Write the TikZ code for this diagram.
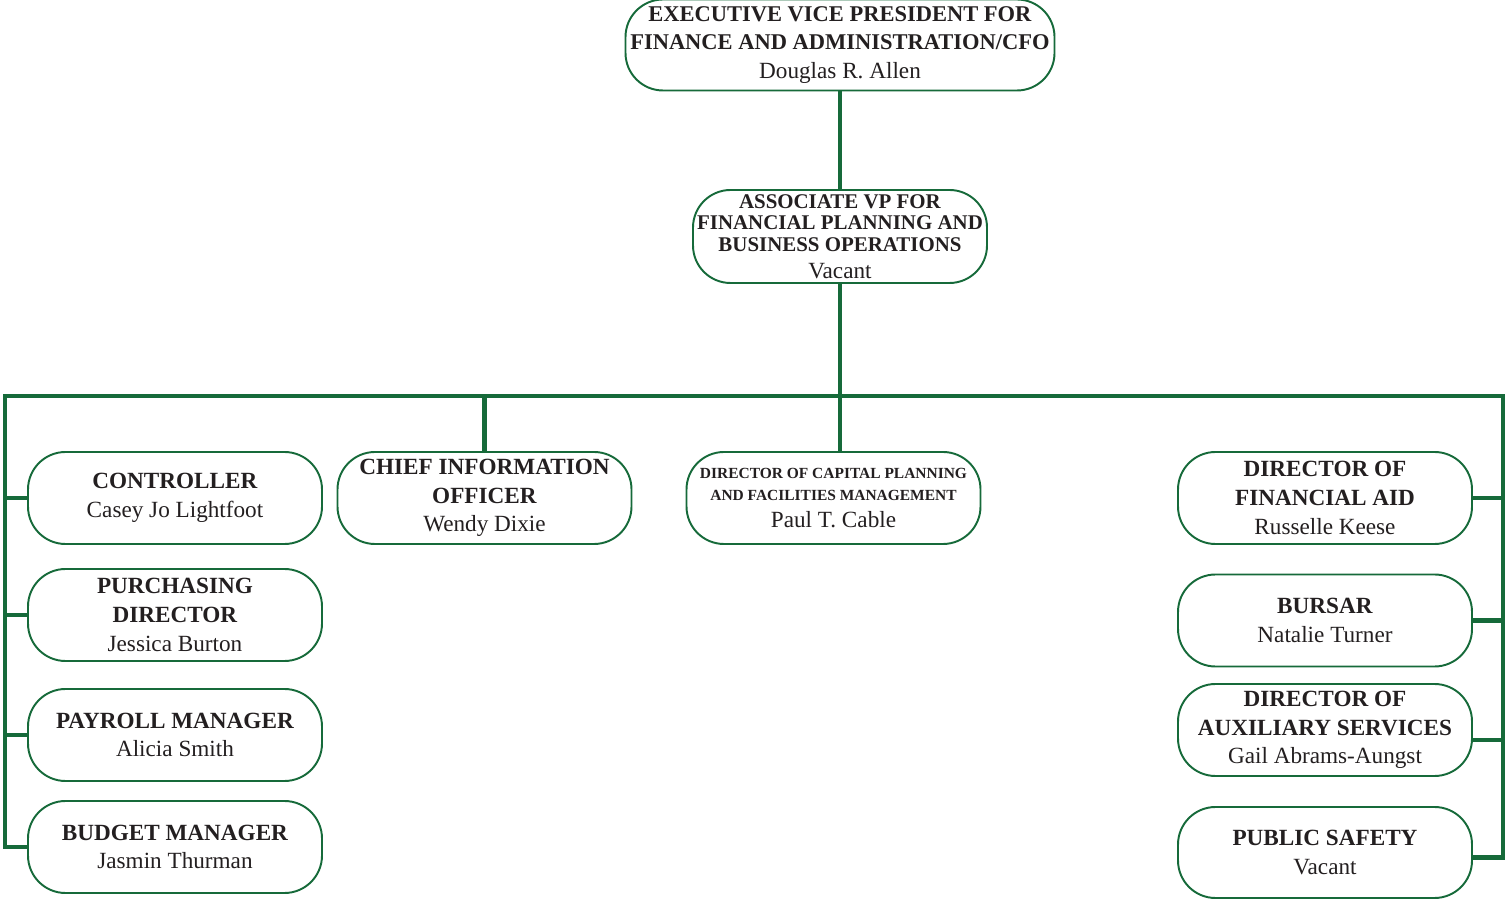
\documentclass[tikz,border=0pt]{standalone}
\usepackage{fontspec}
\setmainfont{Liberation Serif}
\usetikzlibrary{calc}
\definecolor{orggreen}{RGB}{22,106,58}
\definecolor{orgtext}{RGB}{35,31,32}
\newcommand{\boxfont}{\fontsize{13.2}{16.4}\selectfont}
\newcommand{\topfont}{\fontsize{12.8}{16}\selectfont}
\newcommand{\assocfont}{\fontsize{11.9}{12.2}\selectfont}
\newcommand{\tinyfont}{\fontsize{8.8}{12.5}\selectfont}
\tikzset{
	officebox/.style={draw=orggreen, line width=1.1pt, rounded corners=0.75cm, fill=white, text=orgtext,
		minimum width=5.88cm, minimum height=1.84cm, align=center, inner sep=2pt, font=\boxfont},
	link/.style={draw=orggreen, line width=2.4pt}
}

\begin{document}
\begin{tikzpicture}
		%%%%% START %%%%%
		\path[use as bounding box] (0, 0) rectangle (30.12, 17.96);
		
		\coordinate (busL) at (0.1, 10.04);
		\coordinate (busR) at (30.06, 10.04);
		
		\node[officebox, minimum width=8.58cm, minimum height=1.82cm, font=\topfont] (evp) at (16.8, 17.06) {\textbf{EXECUTIVE VICE PRESIDENT FOR}\\\textbf{FINANCE AND ADMINISTRATION/CFO}\\{\boxfont Douglas R. Allen}};
		\node[officebox, minimum height=1.86cm, font=\assocfont] (assoc) at (16.8, 13.23) {\textbf{ASSOCIATE VP FOR}\\\textbf{FINANCIAL PLANNING AND}\\\textbf{BUSINESS OPERATIONS}\\[3pt]{\boxfont Vacant}};
		
		% left column
		\node[officebox] (ctrl) at (3.5, 8.0) {\textbf{CONTROLLER}\\Casey Jo Lightfoot};
		\node[officebox] (purch) at (3.5, 5.66) {\textbf{PURCHASING}\\\textbf{DIRECTOR}\\Jessica Burton};
		\node[officebox] (payroll) at (3.5, 3.26) {\textbf{PAYROLL MANAGER}\\Alicia Smith};
		\node[officebox] (budget) at (3.5, 1.02) {\textbf{BUDGET MANAGER}\\Jasmin Thurman};
		
		% middle
		\node[officebox] (cio) at (9.69, 8.0) {\textbf{CHIEF INFORMATION}\\\textbf{OFFICER}\\Wendy Dixie};
		\node[officebox, font=\tinyfont] (capital) at (16.67, 8.0) {\textbf{DIRECTOR OF CAPITAL PLANNING}\\\textbf{AND FACILITIES MANAGEMENT}\\[2.8pt]{\boxfont Paul T. Cable}};
		
		% right column
		\node[officebox] (finaid) at (26.5, 8.0) {\textbf{DIRECTOR OF}\\\textbf{FINANCIAL AID}\\Russelle Keese};
		\node[officebox] (bursar) at (26.5, 5.55) {\textbf{BURSAR}\\Natalie Turner};
		\node[officebox] (aux) at (26.5, 3.36) {\textbf{DIRECTOR OF}\\\textbf{AUXILIARY SERVICES}\\Gail Abrams-Aungst};
		\node[officebox, minimum height=1.82cm] (safety) at (26.5, 0.91) {\textbf{PUBLIC SAFETY}\\Vacant};
		
		% connectors
		\draw[link] (evp) -- (assoc);
		\draw[link] (assoc) -- (assoc.south |- capital.north);
		\draw[link] (budget.west) -| (busL) -- (busR) |- ($(safety.east)+(0, -0.1)$);
		\draw[link] (cio.north) -- (cio.north |- busL);
		\draw[link] (ctrl.west) -- (ctrl.west -| busL);
		\draw[link] (purch.west) -- (purch.west -| busL);
		\draw[link] (payroll.west) -- (payroll.west -| busL);
		\draw[link] (finaid.east) -- (finaid.east -| busR);
		\draw[link] (bursar.east) -- (bursar.east -| busR);
		\draw[link] ($(aux.east)+(0, -0.2)$) -- ($(aux.east -| busR)+(0, -0.2)$);
		%%%%% END %%%%%
	\end{tikzpicture}
\end{document}
